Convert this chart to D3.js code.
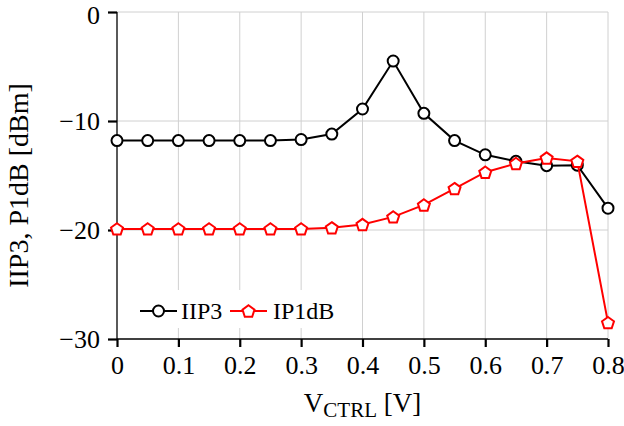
<!DOCTYPE html>
<html>
<head>
<meta charset="utf-8">
<script src="https://cdn.jsdelivr.net/npm/d3@7"></script>
<style>
  html, body { margin: 0; padding: 0; background: #fff; }
  svg { display: block; font-family: "Liberation Serif", "Times New Roman", serif; }
</style>
</head>
<body>
<div id="chart"></div>
<script>
// données
const vctrl = [0, 0.05, 0.1, 0.15, 0.2, 0.25, 0.3, 0.35, 0.4, 0.45, 0.5, 0.55, 0.6, 0.65, 0.7, 0.75, 0.8];
const iip3  = [-11.8, -11.8, -11.8, -11.8, -11.8, -11.8, -11.7, -11.2, -8.9, -4.5, -9.3, -11.8, -13.1, -13.7, -14.1, -14.05, -18.0];
const ip1db = [-19.9, -19.9, -19.9, -19.9, -19.9, -19.9, -19.9, -19.8, -19.5, -18.8, -17.7, -16.2, -14.7, -13.9, -13.4, -13.7, -28.5];
const xTicks = [0, 0.1, 0.2, 0.3, 0.4, 0.5, 0.6, 0.7, 0.8];
const yTicks = [0, -10, -20, -30];

const W = 624, H = 426;
const m = { top: 12, right: 16, bottom: 87, left: 117 };

const svg = d3.select('#chart').append('svg')
  .attr('width', W).attr('height', H);

const x = d3.scaleLinear().domain([0, 0.8]).range([m.left, W - m.right]);
const y = d3.scaleLinear().domain([-30, 0]).range([H - m.bottom, m.top]);

// grille
const grid = svg.append('g').attr('stroke', '#d0d0d0').attr('stroke-width', 1);
grid.selectAll('.gx').data(xTicks.slice(1)).join('line')
  .attr('x1', d => x(d)).attr('x2', d => x(d))
  .attr('y1', y(0)).attr('y2', y(-30));
grid.selectAll('.gy').data(yTicks.slice(0, 3)).join('line')
  .attr('x1', x(0)).attr('x2', x(0.8))
  .attr('y1', d => y(d)).attr('y2', d => y(d));

// légende : fond blanc qui masque la grille
svg.append('rect')
  .attr('x', 134).attr('y', 290).attr('width', 204).attr('height', 38)
  .attr('fill', '#fff');

// axes
const fmtY = d => d === 0 ? '0' : '\u2212' + Math.abs(d);
const xAxis = svg.append('g')
  .attr('transform', `translate(0,${y(-30)})`)
  .call(d3.axisBottom(x).tickValues(xTicks).tickSize(8).tickPadding(8)
    .tickFormat(d => d === 0 ? '0' : d3.format('.1f')(d)));
const yAxis = svg.append('g')
  .attr('transform', `translate(${x(0)},0)`)
  .call(d3.axisLeft(y).tickValues(yTicks).tickSize(9).tickPadding(8).tickFormat(fmtY));

[xAxis, yAxis].forEach(a => {
  a.select('.domain').attr('stroke', '#000').attr('stroke-width', 1.3);
  a.selectAll('.tick line').attr('stroke', '#000').attr('stroke-width', 2.2);
  a.selectAll('.tick text')
    .attr('fill', '#000')
    .style('font-family', '"Liberation Serif", serif')
    .style('font-size', '26px');
});
xAxis.select('.domain').attr('d', `M${x(0)},0H${x(0.8)}`);
yAxis.select('.domain').attr('d', `M0,${y(-30)}V${y(0)}`);
yAxis.selectAll('.tick text').attr('dy', '0.34em');
// le « 0 » du haut est légèrement descendu pour rester dans la page
yAxis.selectAll('.tick text').filter(d => d === 0).attr('y', 3);
xAxis.selectAll('.tick text').attr('dy', '0.72em');

// titres des axes
const xl = svg.append('text')
  .attr('x', (x(0) + x(0.8)) / 2).attr('y', 412)
  .attr('text-anchor', 'middle').attr('font-size', 27).attr('fill', '#000');
xl.append('tspan').text('V');
xl.append('tspan').attr('font-size', 21).attr('dy', 5).text('CTRL');
xl.append('tspan').attr('dy', -5).text(' [V]');

svg.append('text')
  .attr('transform', `translate(28,${(y(0) + y(-30)) / 2 + 10}) rotate(-90)`)
  .attr('text-anchor', 'middle').attr('font-size', 28).attr('fill', '#000')
  .text('IIP3, P1dB [dBm]');

// séries
const line = d3.line().x(d => x(d[0])).y(d => y(d[1]));
const pentagon = r => {
  const pts = d3.range(5).map(i => {
    const a = -Math.PI / 2 + i * 2 * Math.PI / 5;
    return [r * Math.cos(a), r * Math.sin(a)];
  });
  return 'M' + pts.join('L') + 'Z';
};

const series = [
  { name: 'IIP3',  vals: iip3,  color: '#000', shape: 'circle' },
  { name: 'IP1dB', vals: ip1db, color: '#ff0000', shape: 'pentagon' }
];

function drawMarker(g, s, cx, cy) {
  if (s.shape === 'circle') {
    g.append('circle').attr('cx', cx).attr('cy', cy).attr('r', 5.5)
      .attr('fill', '#fff').attr('stroke', s.color).attr('stroke-width', 2);
  } else {
    g.append('path').attr('d', pentagon(6.3))
      .attr('transform', `translate(${cx},${cy + 0.6})`)
      .attr('fill', '#fff').attr('stroke', s.color).attr('stroke-width', 2);
  }
}

series.forEach(s => {
  const pts = vctrl.map((v, i) => [v, s.vals[i]]);
  const g = svg.append('g');
  g.append('path').attr('d', line(pts))
    .attr('fill', 'none').attr('stroke', s.color).attr('stroke-width', 2);
  pts.forEach(p => drawMarker(g, s, x(p[0]), y(p[1])));
});

// légende
const leg = [
  { s: series[0], x0: 140, tx: 181 },
  { s: series[1], x0: 230, tx: 273 }
];
leg.forEach(l => {
  const g = svg.append('g');
  g.append('line').attr('x1', l.x0).attr('x2', l.x0 + 37)
    .attr('y1', 311).attr('y2', 311)
    .attr('stroke', l.s.color).attr('stroke-width', 2);
  drawMarker(g, l.s, l.x0 + 18.5, 311);
  g.append('text').attr('x', l.tx).attr('y', 319)
    .attr('font-size', 24).attr('fill', '#000').text(l.s.name);
});
</script>
</body>
</html>
